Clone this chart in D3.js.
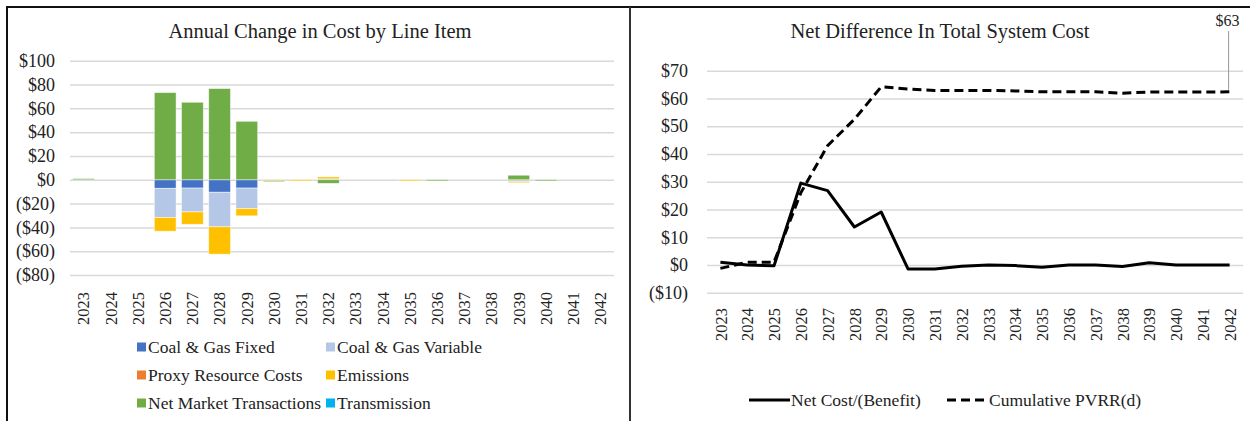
<!DOCTYPE html>
<html>
<head>
<meta charset="utf-8">
<script src="https://cdn.jsdelivr.net/npm/d3@7"></script>
<style>
    body { margin: 0; background: #fff; }
    svg { display: block; font-family: "Times New Roman", "Liberation Serif", serif; }
</style>
</head>
<body>
<div id="chart"></div>
<script>
// Categories shared by both panels
const years = ["2023", "2024", "2025", "2026", "2027", "2028", "2029", "2030", "2031", "2032",
    "2033", "2034", "2035", "2036", "2037", "2038", "2039", "2040", "2041", "2042"];

// Left panel: annual change by line item ($m)
const coalGasFixed    = [0, 0, 0, -7.2, -7, -10.5, -7, 0, 0, 0, 0, 0, 0, 0, 0, 0, 0, 0, 0, 0];
const coalGasVariable = [0, 0, 0, -24.5, -20, -29, -17.3, 0, 0, 0.8, 0, 0, 0, 0, 0, 0, -1.5, 0, 0, 0];
const proxyResource   = [0, 0, 0, 0, 0, 0, 0, 0, 0, 0, 0, 0, 0, 0, 0, 0, 0, 0, 0, 0];
const emissions       = [0, 0, 0, -11.5, -10.4, -23, -6, -0.6, -1, 1.6, 0, 0, -0.8, 0, 0, 0, -1, 0, 0, 0];
const netMarket       = [1, 0, 0, 73.2, 65.1, 76.6, 49.1, -0.6, 0, -3, 0, 0, 0, -0.8, 0, 0, 3.8, -0.8, 0, 0];
const transmission    = [0, 0, 0, 0, 0, 0, 0, 0, 0, 0, 0, 0, 0, 0, 0, 0, 0, 0, 0, 0];
const leftTicks = [100, 80, 60, 40, 20, 0, -20, -40, -60, -80];

// Right panel: net difference in total system cost ($m)
const netCost    = [1, 0, -0.3, 29.5, 26.8, 13.7, 19.1, -1.4, -1.4, -0.4, 0, -0.2, -0.8, 0, 0, -0.5, 0.8, 0, 0, 0];
const cumulative = [-1.2, 1, 1, 26, 43, 52.5, 64.2, 63.4, 62.9, 62.9, 62.9, 62.7, 62.4, 62.4, 62.4, 61.9, 62.3, 62.3, 62.3, 62.4];
const rightTicks = [70, 60, 50, 40, 30, 20, 10, 0, -10];
const endLabel = "$63";

const series = [
    { key: "Coal & Gas Fixed", values: coalGasFixed, color: "#4472C4" },
    { key: "Coal & Gas Variable", values: coalGasVariable, color: "#B4C7E7" },
    { key: "Proxy Resource Costs", values: proxyResource, color: "#ED7D31" },
    { key: "Emissions", values: emissions, color: "#FFC000" },
    { key: "Net Market Transactions", values: netMarket, color: "#70AD47" },
    { key: "Transmission", values: transmission, color: "#00B0F0" }
];

const W = 1250, H = 421;
const GRID = "#d9d9d9";
const money = d => d < 0 ? `($${-d})` : `$${d}`;

const svg = d3.select("#chart").append("svg")
    .attr("width", W)
    .attr("height", H);

// Frame around the two panels
svg.append("path")
    .attr("d", `M7,${H} V7 H${W}`)
    .attr("fill", "none")
    .attr("stroke", "#111")
    .attr("stroke-width", 2);
svg.append("line")
    .attr("x1", 630).attr("x2", 630)
    .attr("y1", 7).attr("y2", H)
    .attr("stroke", "#333")
    .attr("stroke-width", 2);

// d3 axes put a sans-serif font on their group; undo that so Times is inherited
const styleAxis = (g, size) => {
    g.attr("font-family", null).attr("font-size", null);
    g.select(".domain").remove();
    g.selectAll("text").style("font-size", size).attr("fill", "#222");
};

// ---------- Left: stacked bars ----------
const xL = d3.scaleBand().domain(years).range([70, 614]).paddingInner(0.2).paddingOuter(0.1);
const yL = d3.scaleLinear().domain([-80, 100]).range([275, 60.7]);

svg.append("text")
    .text("Annual Change in Cost by Line Item")
    .attr("x", 320).attr("y", 38)
    .attr("text-anchor", "middle")
    .style("font-size", "20.5px")
    .attr("fill", "#222");

const gridL = svg.append("g")
    .attr("transform", "translate(70,0)")
    .call(d3.axisLeft(yL).tickValues(leftTicks).tickFormat(money).tickSize(-544).tickPadding(15))
    .call(styleAxis, "18px");
gridL.selectAll("line").attr("stroke", GRID).attr("stroke-width", 1.5);

const rows = years.map((y, i) => {
    const r = { year: y };
    series.forEach(s => { r[s.key] = s.values[i]; });
    return r;
});
const stacked = d3.stack()
    .keys(series.map(s => s.key))
    .offset(d3.stackOffsetDiverging)(rows);

svg.append("g").selectAll("g")
    .data(stacked)
    .join("g")
    .attr("fill", (d, i) => series[i].color)
    .selectAll("rect")
    .data(d => d.filter(p => p[1] !== p[0]))
    .join("rect")
    .attr("x", p => xL(p.data.year))
    .attr("width", xL.bandwidth())
    .attr("y", p => yL(Math.max(p[0], p[1])))
    .attr("height", p => Math.max(1.2, Math.abs(yL(p[0]) - yL(p[1]))))
    .attr("stroke", "#ffffff")
    .attr("stroke-opacity", 0.6)
    .attr("stroke-width", 0.8);

const axisL = svg.append("g")
    .attr("transform", "translate(0,292)")
    .call(d3.axisBottom(xL).tickSize(0).tickPadding(0))
    .call(styleAxis, "16.5px");
axisL.selectAll("text")
    .attr("transform", "rotate(-90)")
    .attr("x", 0).attr("y", 0).attr("dy", "0.35em")
    .attr("text-anchor", "end");

// Left legend (two columns, three rows)
const legL = svg.append("g").selectAll("g")
    .data(series)
    .join("g")
    .attr("transform", (d, i) => `translate(${i % 2 ? 326 : 137},${347 + Math.floor(i / 2) * 28})`);
legL.append("rect")
    .attr("x", 0).attr("y", -4.5)
    .attr("width", 9).attr("height", 9)
    .attr("fill", d => d.color);
legL.append("text")
    .text(d => d.key)
    .attr("x", 11).attr("dy", "0.35em")
    .style("font-size", "17.5px")
    .attr("fill", "#222");

// ---------- Right: lines ----------
const xR = d3.scalePoint().domain(years).range([707, 1243]).padding(0.5);
const yR = d3.scaleLinear().domain([-10, 70]).range([292.8, 70.7]);

svg.append("text")
    .text("Net Difference In Total System Cost")
    .attr("x", 940).attr("y", 38)
    .attr("text-anchor", "middle")
    .style("font-size", "20.5px")
    .attr("fill", "#222");

const gridR = svg.append("g")
    .attr("transform", "translate(707,0)")
    .call(d3.axisLeft(yR).tickValues(rightTicks).tickFormat(money).tickSize(-536).tickPadding(19))
    .call(styleAxis, "18px");
gridR.selectAll("line").attr("stroke", GRID).attr("stroke-width", 1.5);

const axisR = svg.append("g")
    .attr("transform", "translate(0,308)")
    .call(d3.axisBottom(xR).tickSize(0).tickPadding(0))
    .call(styleAxis, "16.5px");
axisR.selectAll("text")
    .attr("transform", "rotate(-90)")
    .attr("x", 0).attr("y", 0).attr("dy", "0.35em")
    .attr("text-anchor", "end");

const line = d3.line()
    .x((d, i) => xR(years[i]))
    .y(d => yR(d));

svg.append("path")
    .attr("d", line(cumulative))
    .attr("fill", "none")
    .attr("stroke", "#000")
    .attr("stroke-width", 3)
    .attr("stroke-dasharray", "9,5");

svg.append("path")
    .attr("d", line(netCost))
    .attr("fill", "none")
    .attr("stroke", "#000")
    .attr("stroke-width", 3)
    .attr("stroke-linejoin", "round");

// Callout for the last cumulative value
const lastX = xR(years[years.length - 1]);
svg.append("line")
    .attr("x1", lastX - 1).attr("x2", lastX - 1)
    .attr("y1", 31).attr("y2", yR(cumulative[cumulative.length - 1]) - 2)
    .attr("stroke", "#999")
    .attr("stroke-width", 1);
svg.append("text")
    .text(endLabel)
    .attr("x", lastX - 2).attr("y", 26)
    .attr("text-anchor", "middle")
    .style("font-size", "16px")
    .attr("fill", "#222");

// Right legend
const legR = [
    { label: "Net Cost/(Benefit)", dash: null, x: 749 },
    { label: "Cumulative PVRR(d)", dash: "9,5", x: 947 }
];
const legRG = svg.append("g").selectAll("g")
    .data(legR)
    .join("g")
    .attr("transform", d => `translate(${d.x},400)`);
legRG.append("line")
    .attr("x1", 0).attr("x2", 41)
    .attr("stroke", "#000")
    .attr("stroke-width", 3)
    .attr("stroke-dasharray", d => d.dash);
legRG.append("text")
    .text(d => d.label)
    .attr("x", 42).attr("dy", "0.35em")
    .style("font-size", "17.5px")
    .attr("fill", "#222");
</script>
</body>
</html>
